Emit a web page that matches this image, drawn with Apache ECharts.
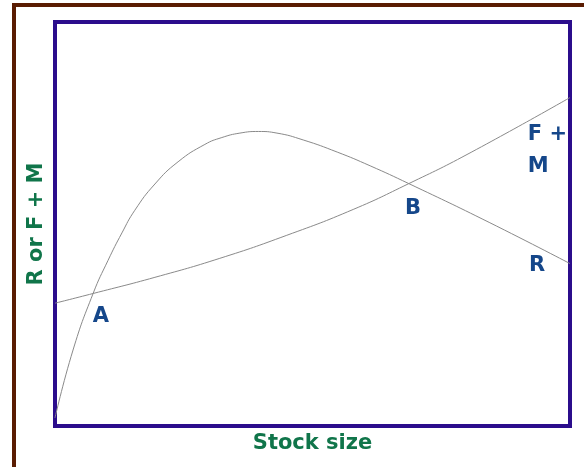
<!DOCTYPE html>
<html>
<head>
<meta charset="utf-8">
<script src="https://cdn.jsdelivr.net/npm/echarts@6/dist/echarts.min.js"></script>
<style>
  html, body { margin: 0; padding: 0; background: #fff; }
  #wrap { position: relative; width: 584px; height: 467px; overflow: hidden; }
  #edge { position: absolute; left: 12px; top: 3px; right: 0; bottom: 0;
          border-left: 4px solid #5a1c02; border-top: 4px solid #5a1c02; }
  #chart { position: absolute; left: 0; top: 0; width: 584px; height: 467px; }
</style>
</head>
<body>
<div id="wrap">
  <div id="edge"></div>
  <div id="chart"></div>
</div>
<script>
  // stock size (x) on a 0-100 scale
  var recruitX = [0, 3.5, 7.4, 10.3, 13.0, 15.5, 19.4, 23.9, 29.1, 32.4, 35.9, 39.5, 43.1, 48.2, 54.8, 61.2, 68.7, 84.3, 100];
  var recruitY = [2, 18.8, 32.8, 41.0, 47.8, 53.4, 59.9, 65.4, 69.7, 71.4, 72.5, 72.9, 72.5, 70.8, 67.8, 64.4, 60.0, 50.4, 40.2];

  var lossX = [0, 7.4, 19.4, 32.0, 45.0, 57.9, 68.7, 80.0, 100];
  var lossY = [30.4, 32.8, 36.8, 41.5, 47.2, 53.6, 60.0, 67.2, 81.3];

  // point labels
  var labelNames = ['A', 'B', 'R', 'F +\nM'];
  var labelX = [8.9, 69.5, 93.6, 91.8];
  var labelY = [27.2, 53.8, 39.8, 68.1];

  function pairs(xs, ys) {
    var out = [];
    for (var i = 0; i < xs.length; i++) out.push([xs[i], ys[i]]);
    return out;
  }

  var labelData = [];
  for (var i = 0; i < labelNames.length; i++) {
    var item = { name: labelNames[i], value: [labelX[i], labelY[i]] };
    if (labelNames[i].indexOf('\n') >= 0) {
      item.label = { align: 'left', lineHeight: 32 };
    }
    labelData.push(item);
  }

  var textFont = 'DejaVu Sans';

  var option = {
    animation: false,
    grid: {
      show: true,
      left: 55, right: 14, top: 22, bottom: 41,
      borderColor: '#2b0d8c',
      borderWidth: 4,
      backgroundColor: '#fff'
    },
    xAxis: {
      type: 'value', min: 0, max: 100,
      name: 'Stock size',
      nameLocation: 'middle',
      nameGap: 7,
      nameTextStyle: { color: '#10754a', fontSize: 21, fontWeight: 'bold', fontFamily: textFont },
      axisLine: { show: false }, axisTick: { show: false },
      axisLabel: { show: false }, splitLine: { show: false }
    },
    yAxis: {
      type: 'value', min: 0, max: 100,
      name: 'R or F + M',
      nameLocation: 'middle',
      nameGap: 8,
      nameTextStyle: { color: '#10754a', fontSize: 21, fontWeight: 'bold', fontFamily: textFont },
      axisLine: { show: false }, axisTick: { show: false },
      axisLabel: { show: false }, splitLine: { show: false }
    },
    series: [
      {
        name: 'R', type: 'line', smooth: 0.5, showSymbol: false,
        lineStyle: { color: '#8a8a8a', width: 1 },
        data: pairs(recruitX, recruitY)
      },
      {
        name: 'F + M', type: 'line', smooth: 0.5, showSymbol: false,
        lineStyle: { color: '#8a8a8a', width: 1 },
        data: pairs(lossX, lossY)
      },
      {
        type: 'scatter', symbolSize: 0,
        itemStyle: { opacity: 1 },
        label: {
          show: true, position: 'inside',
          formatter: '{b}',
          color: '#15478a', textBorderWidth: 0, textBorderColor: 'transparent',
          fontSize: 21, fontWeight: 'bold', fontFamily: textFont
        },
        data: labelData
      }
    ]
  };

  echarts.init(document.getElementById('chart')).setOption(option);
</script>
</body>
</html>
